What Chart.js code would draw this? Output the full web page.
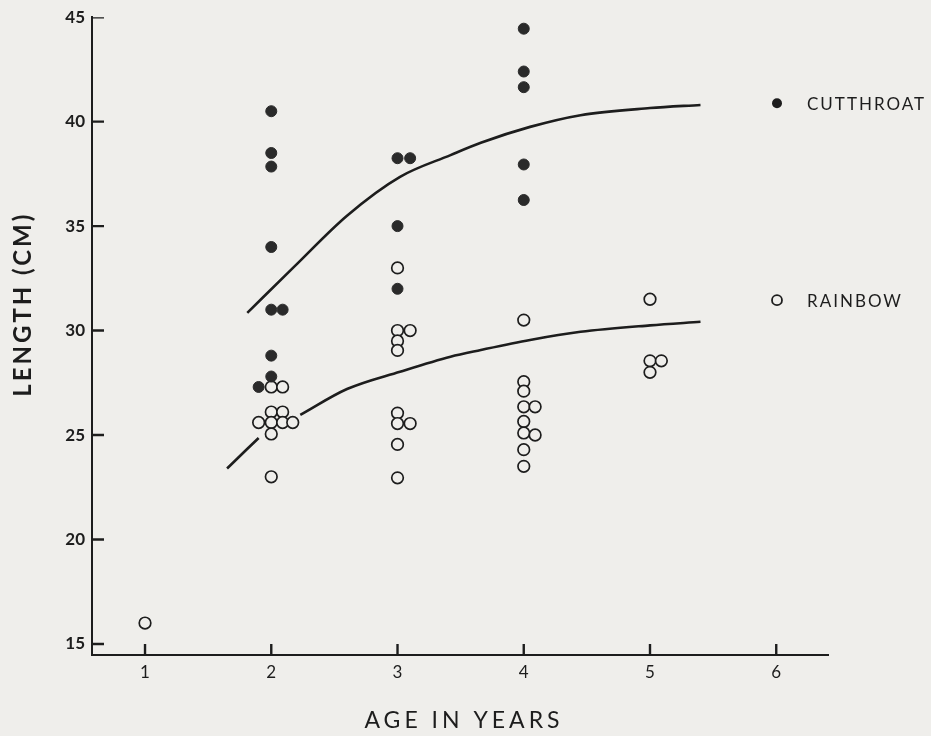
<!DOCTYPE html>
<html>
<head>
<meta charset="utf-8">
<script src="https://cdn.jsdelivr.net/npm/chart.js@4.4.1/dist/chart.umd.min.js"></script>
<style>
  html, body { margin: 0; padding: 0; background: #efeeeb; }
  canvas { display: block; }
</style>
</head>
<body>
<canvas id="chart" width="931" height="736"></canvas>
<script>
// tick labels
const ageTicks = [1, 2, 3, 4, 5, 6];
const lengthTicks = [15, 20, 25, 30, 35, 40, 45];

// axis limits
const ageMin = 0.58, ageMax = 6.41;
const lenMin = 14.47, lenMax = 45;

// cutthroat points (age, length cm)
const cutAge = [2.0, 2.0, 2.0, 2.0, 2.0, 2.09, 2.0, 2.0, 1.9, 3.0, 3.1, 3.0, 3.0, 4.0, 4.0, 4.0, 4.0, 4.0];
const cutLen = [40.5, 38.5, 37.85, 34.0, 31.0, 31.0, 28.8, 27.8, 27.3, 38.25, 38.25, 35.0, 32.0, 44.45, 42.4, 41.65, 37.95, 36.25];

// rainbow points
const rainAge = [1.0, 2.0, 2.09, 2.0, 2.09, 1.9, 2.0, 2.09, 2.17, 2.0, 2.0,
  3.0, 3.0, 3.1, 3.0, 3.0, 3.0, 3.0, 3.1, 3.0, 3.0,
  4.0, 4.0, 4.0, 4.0, 4.09, 4.0, 4.0, 4.09, 4.0, 4.0,
  5.0, 5.0, 5.09, 5.0];
const rainLen = [16.0, 27.3, 27.3, 26.1, 26.1, 25.6, 25.6, 25.6, 25.6, 25.05, 23.0,
  33.0, 30.0, 30.0, 29.5, 29.05, 26.05, 25.55, 25.55, 24.55, 22.95,
  30.5, 27.55, 27.1, 26.35, 26.35, 25.65, 25.1, 25.0, 24.3, 23.5,
  31.5, 28.55, 28.55, 28.0];

// growth curves (null = break in the pen line)
const cutCurveAge = [1.81, 2.18, 2.6, 3.02, 3.42, 3.66, 4.05, 4.45, 5.0, 5.4];
const cutCurveLen = [30.85, 33.05, 35.5, 37.36, 38.4, 38.99, 39.75, 40.31, 40.65, 40.8];
const rainCurveAge = [1.65, 1.9, 2.05, 2.23, 2.6, 3.02, 3.42, 3.66, 4.05, 4.45, 5.0, 5.4];
const rainCurveLen = [23.4, 24.86, null, 25.96, 27.2, 28.03, 28.75, 29.07, 29.55, 29.94, 30.25, 30.42];

const ink = '#1d1d1d';
const paper = '#efeeeb';

const toXY = (xs, ys) => xs.map((x, i) => ({ x: x, y: ys[i] }));

// axis titles and the side legend
const decor = {
  id: 'decor',
  afterDraw(chart) {
    const { ctx, chartArea: a } = chart;
    ctx.save();
    ctx.fillStyle = ink;
    ctx.strokeStyle = ink;
    ctx.textBaseline = 'middle';
    ctx.textAlign = 'center';
    ctx.font = '400 23px Lato';
    ctx.letterSpacing = '4px';
    ctx.fillText('AGE IN YEARS', (a.left + a.right) / 2 + 4, a.bottom + 66);

    ctx.save();
    ctx.translate(a.left - 69, a.top + 287);
    ctx.rotate(-Math.PI / 2);
    ctx.font = 'bold 24px Lato';
    ctx.letterSpacing = '3px';
    ctx.fillText('LENGTH (CM)', 0, 0);
    ctx.restore();

    // legend
    ctx.textAlign = 'left';
    ctx.font = '400 17px Lato';
    ctx.letterSpacing = '2px';
    const lx = a.right - 51;
    ctx.beginPath();
    ctx.arc(lx, a.top + 86, 5, 0, Math.PI * 2);
    ctx.fill();
    ctx.fillText('CUTTHROAT', a.right - 21, a.top + 87);
    ctx.beginPath();
    ctx.arc(lx, a.top + 283, 5, 0, Math.PI * 2);
    ctx.lineWidth = 1.8;
    ctx.stroke();
    ctx.fillText('RAINBOW', a.right - 21, a.top + 284);
    ctx.restore();
  }
};

new Chart(document.getElementById('chart'), {
  type: 'scatter',
  data: {
    datasets: [
      {
        label: 'Cutthroat',
        data: toXY(cutAge, cutLen),
        pointRadius: 5.5,
        pointBackgroundColor: '#2a2a2a',
        pointBorderColor: '#2a2a2a',
        pointBorderWidth: 1
      },
      {
        label: 'Rainbow',
        data: toXY(rainAge, rainLen),
        pointRadius: 5.8,
        pointBackgroundColor: paper,
        pointBorderColor: ink,
        pointBorderWidth: 1.7
      },
      {
        label: 'Cutthroat curve',
        data: toXY(cutCurveAge, cutCurveLen),
        showLine: true,
        pointRadius: 0,
        borderColor: ink,
        borderWidth: 2.6,
        cubicInterpolationMode: 'monotone'
      },
      {
        label: 'Rainbow curve',
        data: toXY(rainCurveAge, rainCurveLen),
        showLine: true,
        spanGaps: false,
        pointRadius: 0,
        borderColor: ink,
        borderWidth: 2.6,
        cubicInterpolationMode: 'monotone'
      },
      // inward tick marks: line markers sitting on the axes, clipped to the plot
      {
        label: 'x ticks',
        data: ageTicks.map(v => ({ x: v, y: lenMin })),
        pointStyle: 'line',
        rotation: 90,
        pointRadius: 11,
        pointBorderColor: ink,
        pointBorderWidth: 2.4,
        clip: 0
      },
      {
        label: 'y ticks',
        data: lengthTicks.map(v => ({ x: ageMin, y: v })),
        pointStyle: 'line',
        rotation: 0,
        pointRadius: 12,
        pointBorderColor: ink,
        pointBorderWidth: 2.4,
        clip: 0
      }
    ]
  },
  options: {
    responsive: false,
    animation: false,
    layout: { padding: { top: 17, right: 103, left: 0, bottom: 0 } },
    plugins: {
      legend: { display: false },
      tooltip: { enabled: false }
    },
    scales: {
      x: {
        type: 'linear',
        min: ageMin,
        max: ageMax,
        afterBuildTicks: s => { s.ticks = ageTicks.map(v => ({ value: v })); },
        afterFit: s => { s.height = 81; },
        grid: { display: false, drawTicks: false },
        border: { display: true, color: ink, width: 2 },
        ticks: { color: ink, padding: 7, font: { family: 'Lato', size: 17 } }
      },
      y: {
        type: 'linear',
        min: lenMin,
        max: lenMax,
        afterBuildTicks: s => { s.ticks = lengthTicks.map(v => ({ value: v })); },
        afterFit: s => { s.width = 92; },
        grid: { display: false, drawTicks: false },
        border: { display: true, color: ink, width: 2 },
        ticks: { color: ink, padding: 7, font: { family: 'Lato', size: 17, weight: 'bold' } }
      }
    }
  },
  plugins: [decor]
});
</script>
</body>
</html>
